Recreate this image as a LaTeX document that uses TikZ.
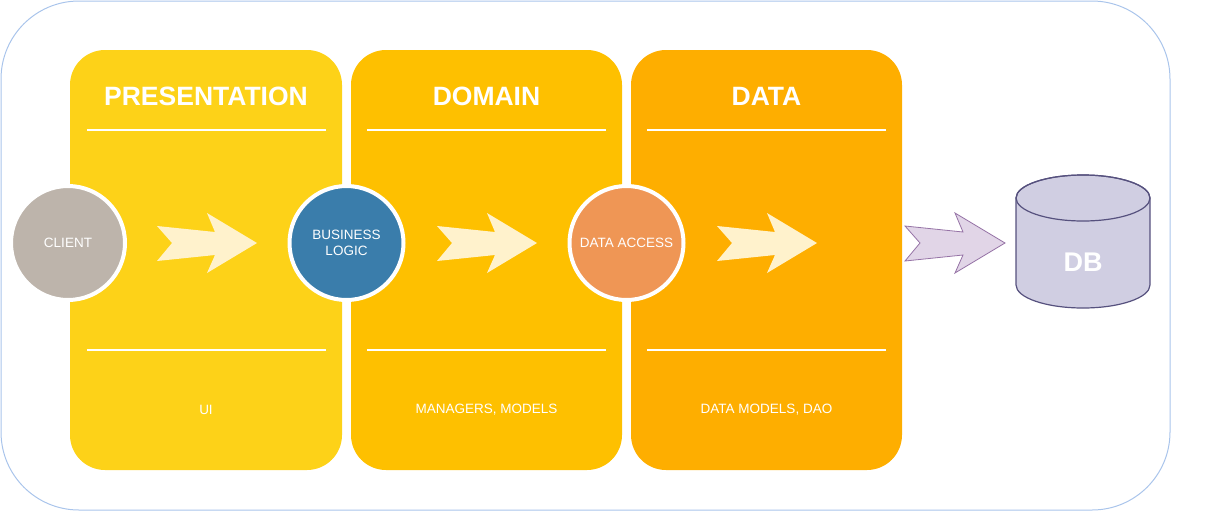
\documentclass[tikz,border=0pt]{standalone}
\usepackage{fontspec}
\setmainfont{Liberation Sans}
\definecolor{frame}{HTML}{A9C4EB}
\definecolor{presc}{HTML}{FDD218}
\definecolor{domc}{HTML}{FEC000}
\definecolor{datac}{HTML}{FEAE00}
\definecolor{clientc}{HTML}{BDB4AB}
\definecolor{bizc}{HTML}{3A7DAB}
\definecolor{accc}{HTML}{EF9655}
\definecolor{arrc}{HTML}{FFF2CC}
\definecolor{dbarrfill}{HTML}{E1D5E7}
\definecolor{dbarrline}{HTML}{9673A6}
\definecolor{dbfill}{HTML}{D0CEE2}
\definecolor{dbline}{HTML}{56517E}
\tikzset{
  panel/.style={rounded corners=35pt},
  title/.style={text=white,font=\fontsize{26.5}{30}\selectfont\bfseries},
  sub/.style={text=white,font=\fontsize{13.5}{16}\selectfont},
  sepline/.style={draw=white,line width=1.5pt},
  ball/.style={circle,draw=white,line width=4pt,minimum size=114pt,inner sep=0pt,
    text=white,align=center,font=\fontsize{13.5}{16}\selectfont},
  pics/fatarrow/.style={code={
    \path[pic actions] (0,-17) -- (15,0) -- (0,18) -- (58,12) -- (50,30) -- (100,0)
      -- (50,-30) -- (58,-11) -- cycle;}}
}
\begin{document}
\begin{tikzpicture}[x=1pt,y=-1pt]
\useasboundingbox (0,0) rectangle (1224,512);
% outer frame
\draw[frame,line width=1pt,rounded corners=78pt] (1,1) rectangle (1170,510);
% panels
\fill[presc,panel] (70,50) rectangle (342,470);
\fill[domc,panel] (351,50) rectangle (622,470);
\fill[datac,panel] (631,50) rectangle (902,470);
% titles
\node[title] (tpres) at (206,96) {PRESENTATION};
\node[title] (tdom) at (486.5,96) {DOMAIN};
\node[title] (tdata) at (766.5,96) {DATA};
% separator lines
\foreach \a in {87,367,647}{
  \draw[sepline] (\a,130) -- ++(239,0);
  \draw[sepline] (\a,350) -- ++(239,0);
}
% bottom texts
\node[sub] (ui) at (206,410) {UI};
\node[sub] (mm) at (486.5,410) {MANAGERS, MODELS};
\node[sub] (dm) at (766.5,410) {DATA MODELS, DAO};
% arrows
\pic[fill=arrc] at (157,243) {fatarrow};
\pic[fill=arrc] at (437,243) {fatarrow};
\pic[fill=arrc] at (717,243) {fatarrow};
\pic[fill=dbarrfill,draw=dbarrline,line width=0.8pt] at (905,243) {fatarrow};
% circles
\node[ball,fill=clientc] (client) at (68,243) {CLIENT};
\node[ball,fill=bizc] (biz) at (346.5,243) {BUSINESS\\LOGIC};
\node[ball,fill=accc] (acc) at (626.5,243) {DATA ACCESS};
% database cylinder
\path[draw=dbline,fill=dbfill,line width=1.2pt]
  (1016,198) -- (1016,285) arc[start angle=180,end angle=0,x radius=67,y radius=23]
  -- (1150,198) arc[start angle=0,end angle=-180,x radius=67,y radius=23] -- cycle;
\draw[dbline,line width=1.2pt] (1083,198) ellipse[x radius=67,y radius=23];
\node[text=white,font=\fontsize{27}{30}\selectfont\bfseries] (db) at (1083,262) {DB};
\end{tikzpicture}
\end{document}
